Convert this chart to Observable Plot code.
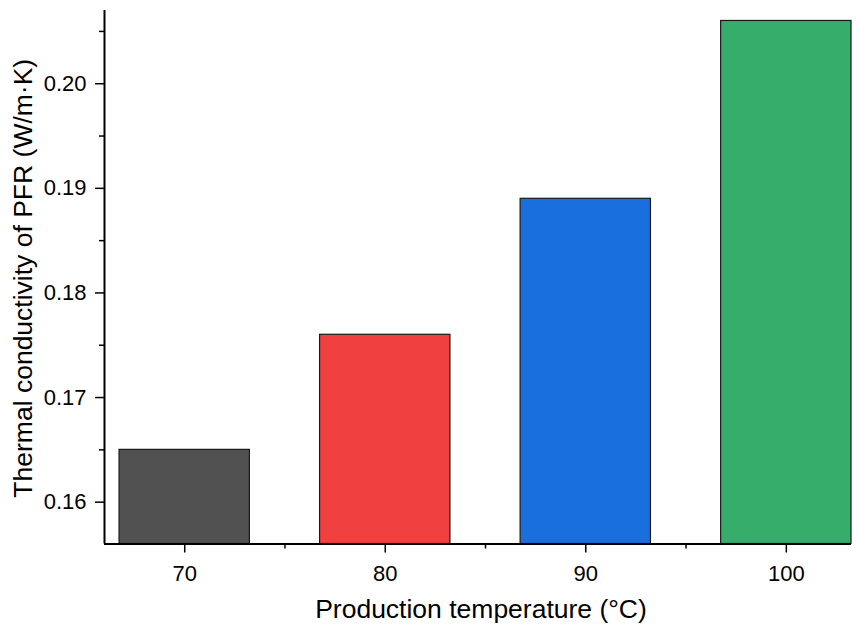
<!DOCTYPE html>
<html>
<head>
<meta charset="utf-8">
<script src="https://cdn.jsdelivr.net/npm/d3@7"></script>
<script src="https://cdn.jsdelivr.net/npm/@observablehq/plot@0.6"></script>
<style>
  html, body { margin: 0; padding: 0; background: #fff; }
  #chart { width: 858px; height: 624px; }
</style>
</head>
<body>
<div id="chart"></div>
<script>
const temperatures = [70, 80, 90, 100];
const conductivity = [0.165, 0.176, 0.189, 0.206];
const barColors = ["#515151", "#F14040", "#1A6FDF", "#37AD6B"];
const xMajorTicks = [70, 80, 90, 100];
const xMinorTicks = [75, 85, 95];
const yMajorTicks = [0.16, 0.17, 0.18, 0.19, 0.20];
const yMinorTicks = [0.165, 0.175, 0.185, 0.195, 0.205];
const xTitle = "Production temperature (°C)";
const yTitle = "Thermal conductivity of PFR (W/m·K)";

const xDomain = [66, 103.25];
const yDomain = [0.156, 0.207];
const halfWidth = 3.25;

const data = temperatures.map((t, i) => ({t, v: conductivity[i], c: barColors[i]}));

const font = "'Liberation Sans', Arial, sans-serif";

const chart = Plot.plot({
  width: 858,
  height: 624,
  marginLeft: 104,
  marginRight: 7,
  marginTop: 10,
  marginBottom: 80.5,
  style: {fontFamily: font, color: "#000", background: "#fff"},
  x: {type: "linear", domain: xDomain, axis: null},
  y: {type: "linear", domain: yDomain, axis: null},
  marks: [
    Plot.rectY(data, {
      x1: d => d.t - halfWidth,
      x2: d => d.t + halfWidth,
      y1: yDomain[0],
      y2: "v",
      fill: d => d.c,
      stroke: "#1a1a1a",
      strokeWidth: 1.2
    }),
    Plot.axisY({ticks: yMajorTicks, tickSize: 9, tickPadding: 9, tickFormat: d3.format(".2f"), fontSize: 22, strokeWidth: 1.5, label: null}),
    Plot.axisY({ticks: yMinorTicks, tickSize: 5, tickFormat: () => "", strokeWidth: 1.5, label: null}),
    Plot.axisX({ticks: xMajorTicks, tickSize: 9, tickPadding: 12, tickFormat: d3.format("d"), fontSize: 22, strokeWidth: 1.5, label: null}),
    Plot.axisX({ticks: xMinorTicks, tickSize: 5, tickFormat: () => "", strokeWidth: 1.5, label: null}),
    Plot.ruleY([yDomain[0]], {stroke: "#000", strokeWidth: 2}),
    Plot.ruleX([xDomain[0]], {stroke: "#000", strokeWidth: 2}),
    Plot.text([xTitle], {frameAnchor: "bottom", textAnchor: "middle", lineAnchor: "middle", dx: 3, dy: 66, fontSize: 26.5, fill: "#000"}),
    Plot.text([yTitle], {frameAnchor: "left", textAnchor: "middle", lineAnchor: "middle", rotate: -90, dx: -81, dy: 1, fontSize: 26.5, fill: "#000"})
  ]
});

document.getElementById("chart").appendChild(chart);
</script>
</body>
</html>
